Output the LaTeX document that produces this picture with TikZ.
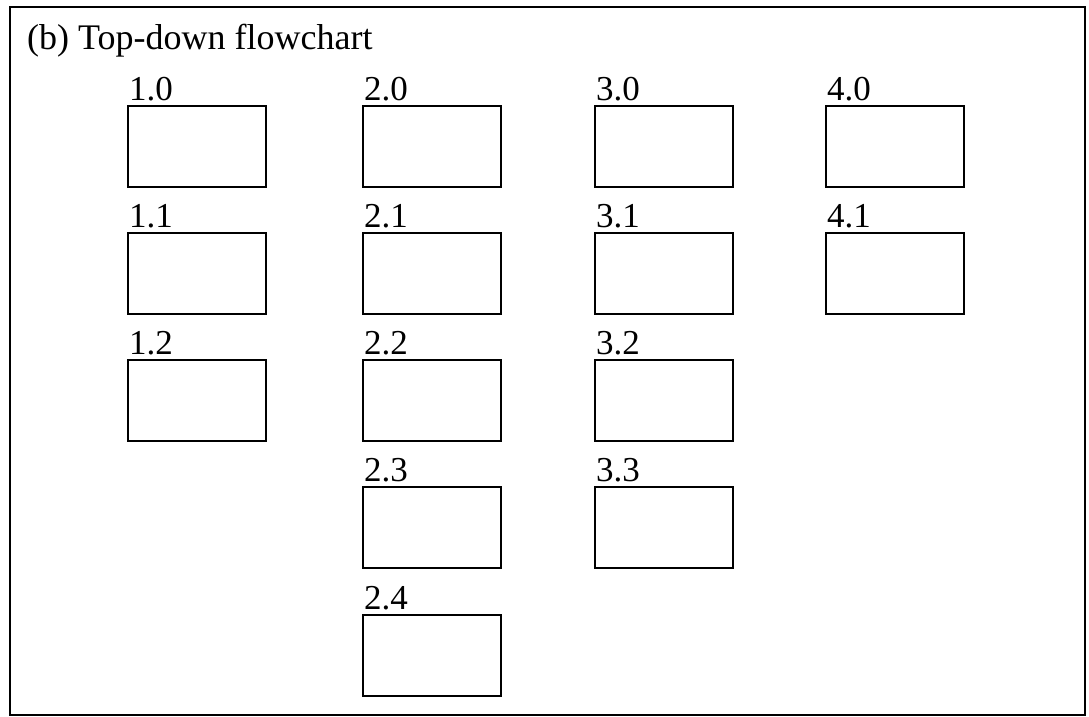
\documentclass[tikz,border=0pt]{standalone}
\usepackage{fontspec}
\setmainfont{Liberation Serif}
\usepackage{tikz}

\begin{document}
\begin{tikzpicture}[x=1pt, y=-1pt,
  blk/.style={rectangle, draw, line width=1.6pt, minimum width=138pt,
              minimum height=81pt, inner sep=0pt},
  num/.style={anchor=base west, inner sep=0pt,
              font=\fontsize{35}{40}\selectfont},
  ttl/.style={anchor=base west, inner sep=0pt,
              font=\fontsize{36}{40}\selectfont}]
  \useasboundingbox (0,0) rectangle (1089,717);
  \draw[line width=1.4pt] (10,7) rectangle (1085,715);
  \node[ttl] (title) at (27,50) {(b) Top-down flowchart};
  \node[blk] (b10) at (197,146.5) {};
  \node[blk] (b11) at (197,273.5) {};
  \node[blk] (b12) at (197,400.5) {};
  \node[blk] (b20) at (432,146.5) {};
  \node[blk] (b21) at (432,273.5) {};
  \node[blk] (b22) at (432,400.5) {};
  \node[blk] (b23) at (432,527.5) {};
  \node[blk] (b24) at (432,655.5) {};
  \node[blk] (b30) at (664,146.5) {};
  \node[blk] (b31) at (664,273.5) {};
  \node[blk] (b32) at (664,400.5) {};
  \node[blk] (b33) at (664,527.5) {};
  \node[blk] (b40) at (895,146.5) {};
  \node[blk] (b41) at (895,273.5) {};
  \node[num] (l10) at (129,100) {1.0};
  \node[num] (l11) at (129,227) {1.1};
  \node[num] (l12) at (129,354) {1.2};
  \node[num] (l20) at (364,100) {2.0};
  \node[num] (l21) at (364,227) {2.1};
  \node[num] (l22) at (364,354) {2.2};
  \node[num] (l23) at (364,481) {2.3};
  \node[num] (l24) at (364,609) {2.4};
  \node[num] (l30) at (596,100) {3.0};
  \node[num] (l31) at (596,227) {3.1};
  \node[num] (l32) at (596,354) {3.2};
  \node[num] (l33) at (596,481) {3.3};
  \node[num] (l40) at (827,100) {4.0};
  \node[num] (l41) at (827,227) {4.1};
\end{tikzpicture}
\end{document}
